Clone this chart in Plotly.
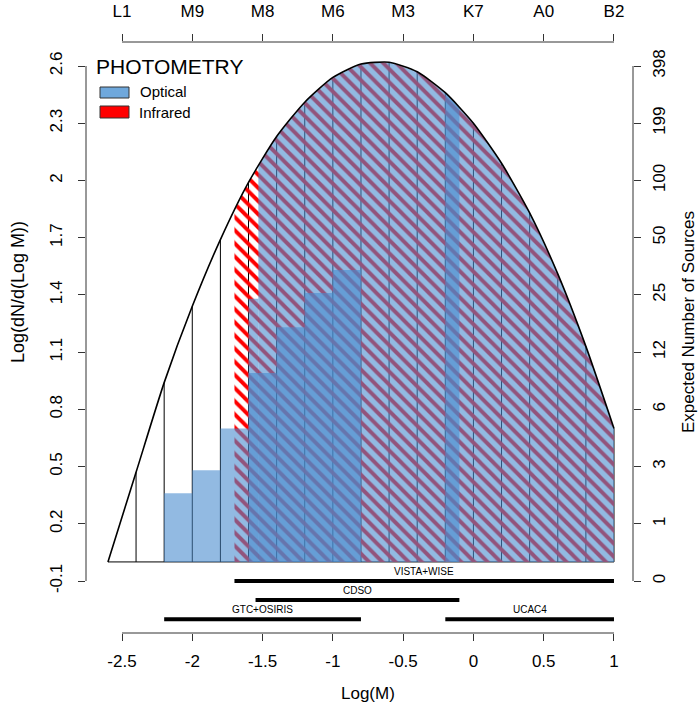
import numpy as np
import plotly.graph_objects as go

# ---------------- data ----------------
# model mass function (log dN/dlogM) read at the histogram bin edges
curve_logm = [-2.6, -2.4, -2.2, -2.0, -1.8, -1.6, -1.4, -1.2, -1.0, -0.8,
              -0.6, -0.4, -0.2, 0.0, 0.2, 0.4, 0.6, 0.8, 1.0]
curve_logn = [0.00, 0.47, 0.94, 1.34, 1.69, 1.99, 2.23, 2.41, 2.54, 2.61,
              2.62, 2.57, 2.46, 2.30, 2.09, 1.83, 1.51, 1.13, 0.70]

# GTC+OSIRIS optical histogram (partial coverage)
gtc_edges = [-2.2, -2.0, -1.8, -1.6, -1.4, -1.2, -1.0, -0.8]
gtc_heights = [0.36, 0.48, 0.70, 0.99, 1.23, 1.41, 1.53]

# CDSO optical coverage: a partial first step then full coverage
cdso_step = [-1.6, -1.53]
cdso_step_height = 1.38
cdso_full = [-1.53, -0.1]
# UCAC4 optical coverage (full)
ucac4_full = [-0.2, 1.0]
# VISTA+WISE infrared coverage (full)
vista_full = [-1.7, 1.0]

# survey ranges shown below the histogram
survey_names = ["VISTA+WISE", "CDSO", "GTC+OSIRIS", "UCAC4"]
survey_lo = [-1.7, -1.55, -2.2, -0.2]
survey_hi = [1.0, -0.1, -0.8, 1.0]
survey_row = [0, 1, 2, 2]

# axes
x_ticks = [-2.5, -2.0, -1.5, -1.0, -0.5, 0.0, 0.5, 1.0]
x_ticktext = ["-2.5", "-2", "-1.5", "-1", "-0.5", "0", "0.5", "1"]
spt_labels = ["L1", "M9", "M8", "M6", "M3", "K7", "A0", "B2"]
y_ticks = [-0.1, 0.2, 0.5, 0.8, 1.1, 1.4, 1.7, 2.0, 2.3, 2.6]
y_ticktext = ["-0.1", "0.2", "0.5", "0.8", "1.1", "1.4", "1.7", "2", "2.3", "2.6"]
n_sources_labels = ["0", "1", "3", "6", "12", "25", "50", "100", "199", "398"]

# ---------------- layout geometry ----------------
W, H = 698, 711
ML, MR, MT, MB = 86, 65, 42, 78
PW, PH = W - ML - MR, H - MT - MB
XR = [-2.7561, 1.1352]
YR = [-0.3726, 2.7258]

FONT = "Liberation Sans, Arial, Helvetica, sans-serif"
BLUE = "rgba(74,140,207,0.6)"


def px2paper_x(px):
    return (px - ML) / PW


def px2paper_y(py):
    return (H - MB - py) / PH


def under_curve(a, b):
    xs = [a] + [x for x in curve_logm if a < x < b] + [b]
    ys = list(np.interp(xs, curve_logm, curve_logn))
    return xs + [b, a, a], ys + [0.0, 0.0, ys[0]]


fig = go.Figure()

# black outline: baseline and bin edges up to the curve
ox, oy = [curve_logm[0], curve_logm[-1], None], [0, 0, None]
for xv, yv in zip(curve_logm[1:], curve_logn[1:]):
    ox += [xv, xv, None]
    oy += [0, yv, None]
fig.add_trace(go.Scatter(x=ox, y=oy, mode="lines", line=dict(color="black", width=1),
                         hoverinfo="skip", showlegend=False))

# infrared hatch (VISTA+WISE)
hx, hy = under_curve(*vista_full)
fig.add_trace(go.Scatter(
    x=hx, y=hy, mode="lines", fill="toself", line=dict(width=0, color="rgba(0,0,0,0)"),
    fillcolor="rgba(0,0,0,0)",
    fillpattern=dict(shape="\\", fgcolor="#FF0000", bgcolor="rgba(0,0,0,0)",
                     fgopacity=1, size=9.3, solidity=0.42),
    hoverinfo="skip", showlegend=False))

# optical: GTC+OSIRIS histogram bars
for i, h in enumerate(gtc_heights):
    a, b = gtc_edges[i], gtc_edges[i + 1]
    fig.add_trace(go.Scatter(x=[a, b, b, a, a], y=[0, 0, h, h, 0], mode="lines", fill="toself",
                             fillcolor=BLUE, line=dict(width=0, color="rgba(0,0,0,0)"),
                             hoverinfo="skip", showlegend=False))

# optical: CDSO
cx, cy = under_curve(*cdso_full)
sx = [cdso_step[0], cdso_step[1], cdso_step[1], cdso_step[0], cdso_step[0]]
sy = [0, 0, cdso_step_height, cdso_step_height, 0]
fig.add_trace(go.Scatter(x=sx, y=sy, mode="lines", fill="toself", fillcolor=BLUE,
                         line=dict(width=0, color="rgba(0,0,0,0)"), hoverinfo="skip", showlegend=False))
fig.add_trace(go.Scatter(x=cx, y=cy, mode="lines", fill="toself", fillcolor=BLUE,
                         line=dict(width=0, color="rgba(0,0,0,0)"), hoverinfo="skip", showlegend=False))

# optical: UCAC4
ux, uy = under_curve(*ucac4_full)
fig.add_trace(go.Scatter(x=ux, y=uy, mode="lines", fill="toself", fillcolor=BLUE,
                         line=dict(width=0, color="rgba(0,0,0,0)"), hoverinfo="skip", showlegend=False))

# model curve
fig.add_trace(go.Scatter(x=curve_logm, y=curve_logn, mode="lines",
                         line=dict(color="black", width=1.6, shape="spline", smoothing=0.6),
                         hoverinfo="skip", showlegend=False))

# survey coverage bars
annotations = []
for name, lo, hi, row in zip(survey_names, survey_lo, survey_hi, survey_row):
    yv = -0.1 - 0.1 * row
    fig.add_trace(go.Scatter(x=[lo, hi], y=[yv, yv], mode="lines",
                             line=dict(color="black", width=4), hoverinfo="skip", showlegend=False))
    annotations.append(dict(x=(lo + hi) / 2, y=yv + 0.052, xref="x", yref="y", text=name,
                            showarrow=False, font=dict(size=10, color="black", family=FONT),
                            xanchor="center", yanchor="middle"))

# dummy traces to activate secondary axes
fig.add_trace(go.Scatter(x=[None], y=[None], xaxis="x2", yaxis="y", showlegend=False))
fig.add_trace(go.Scatter(x=[None], y=[None], xaxis="x", yaxis="y2", showlegend=False))

# legend drawn by hand
annotations += [
    dict(x=px2paper_x(94), y=px2paper_y(66), xref="paper", yref="paper", text="PHOTOMETRY",
         showarrow=False, xanchor="left", yanchor="middle", font=dict(size=21, color="black", family=FONT)),
    dict(x=px2paper_x(138), y=px2paper_y(92), xref="paper", yref="paper", text="Optical",
         showarrow=False, xanchor="left", yanchor="middle", font=dict(size=15, color="black", family=FONT)),
    dict(x=px2paper_x(137), y=px2paper_y(113), xref="paper", yref="paper", text="Infrared",
         showarrow=False, xanchor="left", yanchor="middle", font=dict(size=15, color="black", family=FONT)),
]

# axis titles
annotations += [
    dict(x=-0.75, y=px2paper_y(693), xref="x", yref="paper", text="Log(M)", showarrow=False,
         xanchor="center", yanchor="middle", font=dict(size=17, color="black", family=FONT)),
    dict(x=px2paper_x(18), y=px2paper_y(292), xref="paper", yref="paper", text="Log(dN/d(Log M))",
         showarrow=False, textangle=-90, xanchor="center", yanchor="middle",
         font=dict(size=18, color="black", family=FONT)),
    dict(x=px2paper_x(688), y=px2paper_y(322), xref="paper", yref="paper",
         text="Expected Number of Sources", showarrow=False, textangle=-90,
         xanchor="center", yanchor="middle", font=dict(size=17, color="black", family=FONT)),
]

shapes = [
    # legend swatches
    dict(type="rect", xref="paper", yref="paper", x0=px2paper_x(100), x1=px2paper_x(129),
         y0=px2paper_y(98), y1=px2paper_y(87), fillcolor="#6FA8DC", line=dict(color="#333333", width=1)),
    dict(type="rect", xref="paper", yref="paper", x0=px2paper_x(100), x1=px2paper_x(129),
         y0=px2paper_y(118), y1=px2paper_y(106), fillcolor="#FF0000", line=dict(color="#333333", width=1)),
    # axis lines (R style: only between the extreme ticks)
    dict(type="line", xref="paper", yref="y", x0=0, x1=0, y0=y_ticks[0], y1=y_ticks[-1],
         line=dict(color="#333333", width=1)),
    dict(type="line", xref="paper", yref="y", x0=1, x1=1, y0=y_ticks[0], y1=y_ticks[-1],
         line=dict(color="#333333", width=1)),
    dict(type="line", xref="x", yref="paper", x0=x_ticks[0], x1=x_ticks[-1], y0=0, y1=0,
         line=dict(color="#333333", width=1)),
    dict(type="line", xref="x", yref="paper", x0=x_ticks[0], x1=x_ticks[-1], y0=1, y1=1,
         line=dict(color="#333333", width=1)),
]

tickfont = dict(size=17, color="black", family=FONT)
common = dict(showgrid=False, zeroline=False, showline=False, ticks="outside", ticklen=7,
              tickwidth=1, tickcolor="#333333", tickfont=tickfont, automargin=False)

fig.update_layout(
    template="none",
    width=W, height=H, autosize=False,
    margin=dict(l=ML, r=MR, t=MT, b=MB, pad=0, autoexpand=False),
    paper_bgcolor="white", plot_bgcolor="white",
    showlegend=False,
    xaxis=dict(range=XR, tickmode="array", tickvals=x_ticks, ticktext=x_ticktext,
               ticklabelstandoff=6, **common),
    xaxis2=dict(range=XR, overlaying="x", side="top", tickmode="array", tickvals=x_ticks,
                ticktext=spt_labels, ticklabelstandoff=10, **common),
    yaxis=dict(range=YR, tickmode="array", tickvals=y_ticks, ticktext=y_ticktext, tickangle=-90,
               ticklabelstandoff=9, **common),
    yaxis2=dict(range=YR, overlaying="y", side="right", tickmode="array", tickvals=y_ticks,
                ticktext=n_sources_labels, tickangle=-90, ticklabelstandoff=4, **common),
    annotations=annotations,
    shapes=shapes,
)

fig.write_html("out.html")
